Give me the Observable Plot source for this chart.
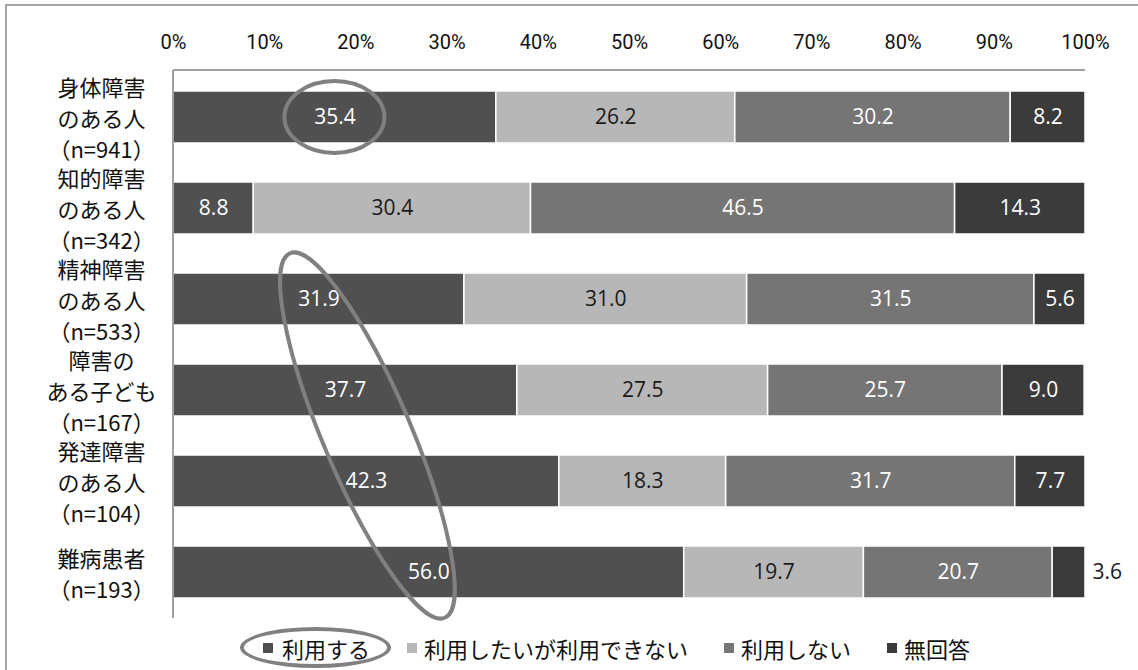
<!DOCTYPE html>
<html lang="ja">
<head>
<meta charset="utf-8">
<script src="https://cdn.jsdelivr.net/npm/d3@7"></script>
<script src="https://cdn.jsdelivr.net/npm/@observablehq/plot@0.6"></script>
<style>
  html, body { margin: 0; padding: 0; background: #fff; }
  #wrap { position: relative; width: 1138px; height: 670px; overflow: hidden; }
  #outer { position: absolute; left: 5px; top: 4px; width: 1200px; height: 700px;
           border-left: 2px solid #a6a6a6; border-top: 2px solid #a6a6a6; }
  #chart { position: absolute; left: 0; top: 0; }
  #legend { position: absolute; left: 240px; top: 627px; height: 41px;
            display: flex; align-items: center;
            font-family: "Noto Sans CJK JP", sans-serif; font-size: 22px; color: #111; }
  #legend .item { display: flex; align-items: center; white-space: nowrap; box-sizing: border-box;
                  height: 41px; margin-left: 36px; }
  #legend .sw { width: 10px; height: 10px; margin-right: 7px; display: inline-block; }
  #legend .circled { border: 4px solid #808080; border-radius: 50%; padding: 0 17px 0 19px;
                     margin-left: 0; margin-right: -20px; }
  #legend .circled .sw { margin-right: 9px; }
</style>
</head>
<body>
<div id="wrap">
  <div id="outer"></div>
  <div id="chart"></div>
  <div id="legend"></div>
</div>
<script>
// Survey groups (rows, top to bottom) and their axis labels
const groups = ["身体障害のある人", "知的障害のある人", "精神障害のある人", "障害のある子ども", "発達障害のある人", "難病患者"];
const groupLabels = [
  "身体障害\nのある人\n（n=941）",
  "知的障害\nのある人\n（n=342）",
  "精神障害\nのある人\n（n=533）",
  "障害の\nある子ども\n（n=167）",
  "発達障害\nのある人\n（n=104）",
  "難病患者\n（n=193）"
];

// Response categories, in stacking order
const responses = ["利用する", "利用したいが利用できない", "利用しない", "無回答"];
const colors = ["#505050", "#b7b7b7", "#757575", "#3b3b3b"];

// Percentages per response, one value per group
const use        = [35.4,  8.8, 31.9, 37.7, 42.3, 56.0];
const wantCannot = [26.2, 30.4, 31.0, 27.5, 18.3, 19.7];
const notUse     = [30.2, 46.5, 31.5, 25.7, 31.7, 20.7];
const noAnswer   = [ 8.2, 14.3,  5.6,  9.0,  7.7,  3.6];

const tickValues = [0, 10, 20, 30, 40, 50, 60, 70, 80, 90, 100];

const series = [use, wantCannot, notUse, noAnswer];
const table = [];
groups.forEach((g, i) => {
  let acc = 0;
  responses.forEach((r, j) => {
    const v = series[j][i];
    table.push({group: g, response: r, value: v, end: acc + v});
    acc += v;
  });
});

const jp = "'Noto Sans CJK JP', sans-serif";
const num = "'Open Sans', sans-serif";
const inside = table.filter(d => d.value >= 4);
const outside = table.filter(d => d.value < 4);

const chart = Plot.plot({
  width: 1138,
  height: 625,
  marginLeft: 173,
  marginRight: 53,
  marginTop: 70,
  marginBottom: 7,
  style: {fontFamily: jp, background: "transparent"},
  x: {domain: [0, 100], axis: null},
  y: {domain: groups, paddingInner: 0.43, paddingOuter: 0.215, axis: null},
  color: {domain: responses, range: colors},
  marks: [
    Plot.axisX({anchor: "top", ticks: tickValues, tickFormat: d => d + "%", tickSize: 0,
                tickPadding: 22, fontSize: 20, fontFamily: "Roboto, sans-serif", fill: "#111"}),
    Plot.barX(table, Plot.stackX({x: "value", y: "group", fill: "response",
                                  stroke: "white", strokeWidth: 1.5})),
    Plot.text(inside, Plot.stackX({x: "value", y: "group", text: d => d.value.toFixed(1),
      fill: d => d.response === responses[1] ? "#1a1a1a" : "white",
      fontSize: 21, fontFamily: num})),
    Plot.text(outside, {x: "end", y: "group", text: d => d.value.toFixed(1),
      textAnchor: "start", dx: 7, fill: "#1a1a1a", fontSize: 21, fontFamily: num}),
    Plot.text(groups, {y: d => d, text: (d, i) => groupLabels[i], frameAnchor: "left",
      dx: -72, textAnchor: "middle", lineHeight: 1.41, fontSize: 22, fill: "#111"})
  ]
});
document.getElementById("chart").appendChild(chart);

// Plot-area frame (top and left edges) and the highlight ellipses
const xs = chart.scale("x"), ys = chart.scale("y");
const bw = ys.bandwidth;
const yc = g => ys.apply(g) + bw / 2;
const svg = d3.select(chart);
const x0 = xs.apply(0), x1 = xs.apply(100);
const yTop = ys.range[0], yBot = ys.range[1];
svg.append("line").attr("x1", x0).attr("x2", x1).attr("y1", yTop).attr("y2", yTop)
  .attr("stroke", "#a0a0a0").attr("stroke-width", 2);
svg.append("line").attr("x1", x0).attr("x2", x0).attr("y1", yTop).attr("y2", yBot)
  .attr("stroke", "#a0a0a0").attr("stroke-width", 2);

// ring around the first group's 利用する value
svg.append("ellipse")
  .attr("cx", xs.apply(use[0] / 2)).attr("cy", yc(groups[0]))
  .attr("rx", 50).attr("ry", 36)
  .attr("fill", "none").attr("stroke", "#808080").attr("stroke-width", 4);

// tilted ring around the 利用する values of the last four groups
const ringIdx = [2, 3, 4, 5];
const cx = d3.mean(ringIdx, i => xs.apply(use[i] / 2)) + 3;
const cy = d3.mean(ringIdx, i => yc(groups[i]));
svg.append("ellipse")
  .attr("cx", 0).attr("cy", 0).attr("rx", 198).attr("ry", 44)
  .attr("transform", `translate(${cx},${cy}) rotate(67)`)
  .attr("fill", "none").attr("stroke", "#808080").attr("stroke-width", 4);

// Legend
const legend = document.getElementById("legend");
responses.forEach((r, j) => {
  const item = document.createElement("div");
  item.className = "item" + (j === 0 ? " circled" : "");
  const sw = document.createElement("span");
  sw.className = "sw";
  sw.style.background = colors[j];
  item.appendChild(sw);
  item.appendChild(document.createTextNode(r));
  legend.appendChild(item);
});
</script>
</body>
</html>
